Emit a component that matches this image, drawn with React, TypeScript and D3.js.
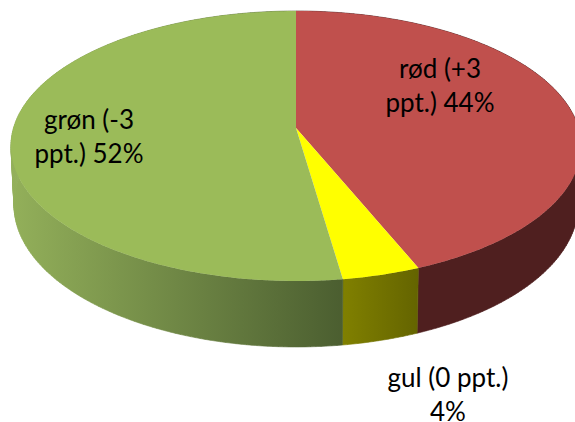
import * as d3 from "d3";

// values, labels round them to 44 / 4 / 52
const categories = ["rød", "gul", "grøn"];
const values = [43.8, 3.9, 52.3];
const colors = ["#C0504D", "#FFFF00", "#9BBB59"];
const wallFrom = ["#4F1F1F", "#808000", "#93B05A"];
const wallTo = ["#4F1F1F", "#646400", "#4B5E30"];
const labelLines = [["rød (+3", "ppt.) 44%"], ["gul (0 ppt.)", "4%"], ["grøn (-3", "ppt.) 52%"]];

const width = 575;
const height = 422;
const tilt = 0.1333; // perspective of the disc

// top face and bottom edge of the disc
const topRim = { x: 296, y: 128, rx: 282.5, ry: 132.6 };
const bottomRim = { x: 296, y: 186, rx: 279.5, ry: 139.5 };
const labelX = [440, 448, 89];
const labelY = [78, 387, 129];
const lineGap = 33.5;

const pie = d3.pie<number>().sort(null)(values);

function project(rim: typeof topRim, a: number): [number, number] {
  const u = Math.sin(a);
  const v = -Math.cos(a);
  const w = 1 - tilt * v;
  return [rim.x + (rim.rx * u) / w, rim.y + (rim.ry * v) / w];
}

function rimPoints(rim: typeof topRim, a0: number, a1: number) {
  const n = Math.max(2, Math.ceil((a1 - a0) * 60));
  return d3.range(n + 1).map((i) => project(rim, a0 + ((a1 - a0) * i) / n));
}

const line = d3.line();

// wall as small quads, so the silhouette joins top and bottom without a notch
function wallPath(a0: number, a1: number) {
  const t = rimPoints(topRim, a0, a1);
  const b = rimPoints(bottomRim, a0, a1);
  return d3
    .range(t.length - 1)
    .map((i) => line([t[i], t[i + 1], b[i + 1], b[i]]) + "Z")
    .join("");
}

export default function App() {
  return (
    <svg
      width={width}
      height={height}
      style={{ position: "absolute", left: 0, top: 0, display: "block", background: "#fff" }}
    >
      <defs>
        {pie.map((d, i) => {
          const xs = rimPoints(topRim, d.startAngle, d.endAngle)
            .filter((p) => p[1] > 150)
            .map((p) => p[0]);
          return (
            <linearGradient
              key={i}
              id={`wall${i}`}
              gradientUnits="userSpaceOnUse"
              x1={d3.min(xs)}
              x2={d3.max(xs)}
              y1={0}
              y2={0}
            >
              <stop offset="0" stopColor={wallFrom[i]} />
              <stop offset="1" stopColor={wallTo[i]} />
            </linearGradient>
          );
        })}
      </defs>

      {/* side walls first, the top face goes over them */}
      {pie.map((d, i) => (
        <path
          key={categories[i]}
          d={wallPath(d.startAngle, d.endAngle)}
          fill={`url(#wall${i})`}
          stroke={`url(#wall${i})`}
          strokeWidth={0.6}
        />
      ))}

      {pie.map((d, i) => {
        const pts = [[topRim.x, topRim.y] as [number, number], ...rimPoints(topRim, d.startAngle, d.endAngle)];
        return <path key={categories[i]} d={line(pts) + "Z"} fill={colors[i]} />;
      })}

      {labelLines.map((lines, i) => (
        <text
          key={i}
          textAnchor="middle"
          fontFamily="Lato, 'Open Sans', sans-serif"
          fontSize={26}
          fill="#000"
        >
          {lines.map((t, j) => (
            <tspan key={j} x={labelX[i]} y={labelY[i] + j * lineGap}>
              {t}
            </tspan>
          ))}
        </text>
      ))}
    </svg>
  );
}
